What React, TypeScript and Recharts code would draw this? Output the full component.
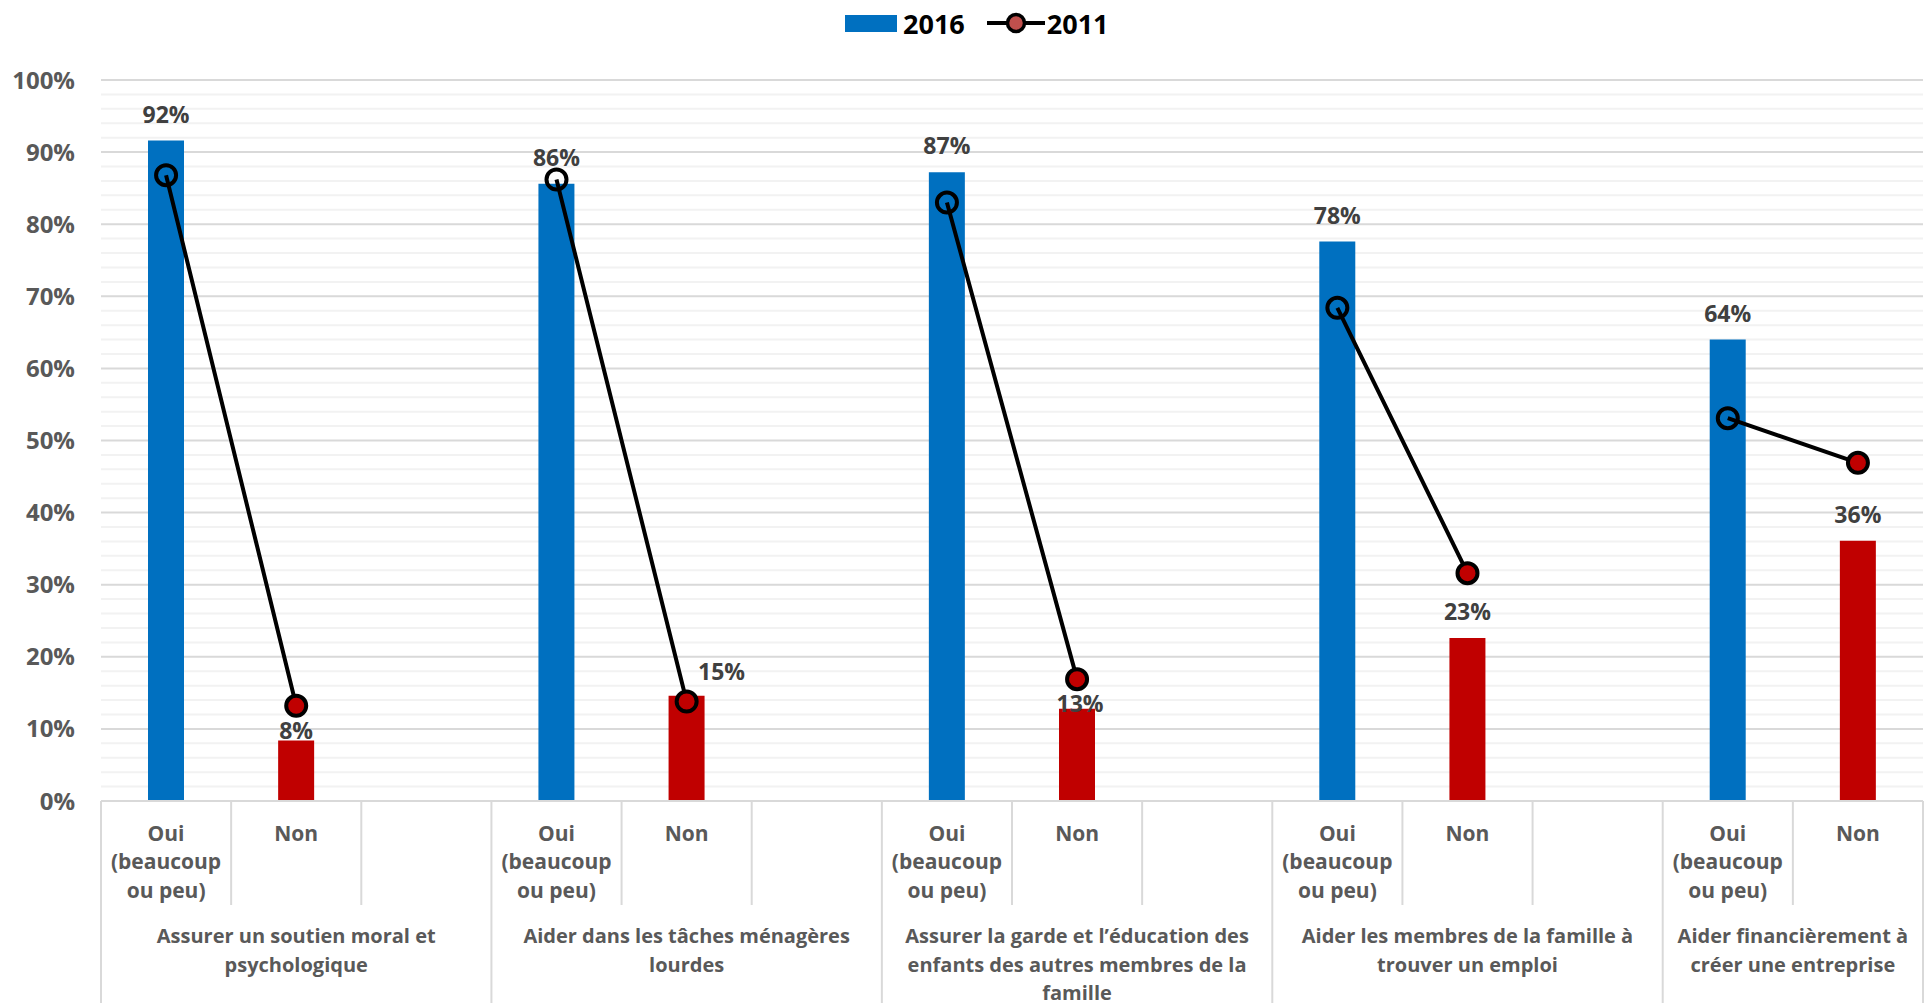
import React from 'react';
import { ComposedChart, Bar, Line, XAxis, YAxis, CartesianGrid, Legend, Cell, LabelList } from 'recharts';

const FONT = "'Open Sans', 'Noto Sans', sans-serif";
const BLUE = '#0070C0';
const RED = '#C00000';
const AXIS_GREY = '#D9D9D9';
const MINOR_GREY = '#F2F2F2';
const TEXT_GREY = '#595959';

const CHART_W = 1928;
const CHART_H = 1003;
const Y_W = 101;
const X_H = 202;
const MARGIN = { top: 36, right: 5, bottom: 0, left: 0 };

// questions (group labels, pre-wrapped like the original)
const GROUP_LABELS = [
  ['Assurer un soutien moral et', 'psychologique'],
  ['Aider dans les tâches ménagères', 'lourdes'],
  ['Assurer la garde et l’éducation des', 'enfants des autres membres de la', 'famille'],
  ['Aider les membres de la famille à', 'trouver un emploi'],
  ['Aider financièrement à', 'créer une entreprise'],
];
const OUI_LABEL = ['Oui', '(beaucoup', 'ou peu)'];
const NON_LABEL = ['Non'];

// 2016 (bars)
const OUI_2016 = [91.6, 85.6, 87.2, 77.6, 64.0];
const NON_2016 = [8.4, 14.6, 12.8, 22.6, 36.1];
// 2011 (line)
const OUI_2011 = [86.8, 86.2, 83.0, 68.4, 53.1];
const NON_2011 = [13.2, 13.8, 16.9, 31.6, 46.9];

const Y_TICKS = [0, 10, 20, 30, 40, 50, 60, 70, 80, 90, 100];
const MINOR_TICKS = Array.from({ length: 51 }, (_, i) => i * 2).filter((v) => v % 10 !== 0);

type Row = { key: string; slot: 'oui' | 'non' | 'gap'; group: number; y2016: number | null; y2011: number | null };

const rows: Row[] = [];
GROUP_LABELS.forEach((_, g) => {
  rows.push({ key: `${g}-oui`, slot: 'oui', group: g, y2016: OUI_2016[g], y2011: OUI_2011[g] });
  rows.push({ key: `${g}-non`, slot: 'non', group: g, y2016: NON_2016[g], y2011: NON_2011[g] });
  if (g < GROUP_LABELS.length - 1) rows.push({ key: `${g}-gap`, slot: 'gap', group: g, y2016: null, y2011: null });
});

const SLOT_W = (CHART_W - Y_W - MARGIN.left - MARGIN.right) / rows.length;

// hand-moved data labels in the original
const LABEL_NUDGE: Record<string, { dx: number; dy: number }> = {
  '0-non': { dx: 0, dy: 17 },
  '1-non': { dx: 35, dy: 2 },
  '2-non': { dx: 3, dy: 21 },
};

function CategoryTick(props: any) {
  const { x, y, payload } = props;
  const row = rows.find((r) => r.key === payload.value);
  if (!row) return null;
  const left = x - SLOT_W / 2;
  const lines = row.slot === 'oui' ? OUI_LABEL : row.slot === 'non' ? NON_LABEL : [];
  const groupSize = rows.filter((r) => r.group === row.group).length;
  const isLast = rows[rows.length - 1].key === row.key;
  const gx = left + (groupSize * SLOT_W) / 2;
  return (
    <g>
      <line x1={left} x2={left} y1={y} y2={y + (row.slot === 'oui' ? X_H : 104)} stroke={AXIS_GREY} strokeWidth={2} />
      {isLast && <line x1={x + SLOT_W / 2} x2={x + SLOT_W / 2} y1={y} y2={y + X_H} stroke={AXIS_GREY} strokeWidth={2} />}
      <text x={x} y={y + 40} textAnchor="middle" fill={TEXT_GREY} fontSize={21} fontWeight={700} fontFamily={FONT}>
        {lines.map((t, i) => (
          <tspan key={i} x={x} dy={i === 0 ? 0 : 28.3}>
            {t}
          </tspan>
        ))}
      </text>
      {row.slot === 'oui' && (
        <text x={gx} y={y + 142} textAnchor="middle" fill={TEXT_GREY} fontSize={20} fontWeight={700} fontFamily={FONT}>
          {GROUP_LABELS[row.group].map((t, i) => (
            <tspan key={i} x={gx} dy={i === 0 ? 0 : 28.5}>
              {t}
            </tspan>
          ))}
        </text>
      )}
    </g>
  );
}

function BarValueLabel(props: any) {
  const { x, y, width, value } = props;
  const row = rows.find((r) => r.key === value);
  if (!row || row.y2016 == null) return null;
  const nudge = LABEL_NUDGE[row.key] ?? { dx: 0, dy: 0 };
  return (
    <text
      x={x + width / 2 + nudge.dx}
      y={y - 27 + nudge.dy}
      dominantBaseline="central"
      textAnchor="middle"
      fill="#404040"
      fontSize={23}
      fontWeight={700}
      fontFamily={FONT}
    >
      {`${Math.round(row.y2016)}%`}
    </text>
  );
}

function Dot2011(props: any) {
  const { cx, cy, payload, index } = props;
  if (cx == null || cy == null || payload?.y2011 == null) return <g key={`d-${index}`} />;
  return (
    <circle
      key={`d-${index}`}
      cx={cx}
      cy={cy}
      r={10}
      fill={payload.slot === 'non' ? RED : 'none'}
      stroke="#000"
      strokeWidth={4}
    />
  );
}

function LegendBox() {
  return (
    <div
      style={{
        height: 44,
        display: 'flex',
        alignItems: 'center',
        paddingLeft: 845,
        fontFamily: FONT,
        fontWeight: 700,
        fontSize: 27,
        color: '#000',
      }}
    >
      <span style={{ width: 52, height: 17, background: BLUE, display: 'inline-block' }} />
      <span style={{ marginLeft: 6 }}>2016</span>
      <svg width={58} height={24} style={{ marginLeft: 22 }}>
        <line x1={0} x2={58} y1={12} y2={12} stroke="#000" strokeWidth={4} />
        <circle cx={29} cy={12} r={8.5} fill="#C0504D" stroke="#000" strokeWidth={3.5} />
      </svg>
      <span style={{ marginLeft: 2 }}>2011</span>
    </div>
  );
}

export default function App() {
  return (
    <div style={{ position: 'absolute', left: 0, top: 0, width: CHART_W, height: CHART_H, background: '#fff' }}>
      <ComposedChart width={CHART_W} height={CHART_H} data={rows} margin={MARGIN} style={{ fontFamily: FONT }}>
        <CartesianGrid vertical={false} horizontalValues={MINOR_TICKS} stroke={MINOR_GREY} strokeWidth={2} />
        <CartesianGrid vertical={false} stroke={AXIS_GREY} strokeWidth={2} />
        <Legend verticalAlign="top" align="left" wrapperStyle={{ top: 1, left: 0, width: CHART_W }} content={() => <LegendBox />} />
        <XAxis
          dataKey="key"
          type="category"
          interval={0}
          height={X_H}
          tickLine={false}
          tickSize={0}
          tickMargin={0}
          axisLine={{ stroke: AXIS_GREY, strokeWidth: 2 }}
          tick={<CategoryTick />}
        />
        <YAxis
          width={Y_W}
          domain={[0, 100]}
          ticks={Y_TICKS}
          interval={0}
          axisLine={false}
          tickLine={false}
          tickSize={0}
          tickMargin={26}
          tickFormatter={(v) => `${v}%`}
          tick={{ fill: TEXT_GREY, fontSize: 24, fontWeight: 700, fontFamily: FONT }}
        />
        <Bar dataKey="y2016" name="2016" barSize={36} isAnimationActive={false}>
          {rows.map((r) => (
            <Cell key={r.key} fill={r.slot === 'non' ? RED : BLUE} />
          ))}
          <LabelList dataKey="key" content={<BarValueLabel />} />
        </Bar>
        <Line
          dataKey="y2011"
          name="2011"
          stroke="#000"
          strokeWidth={4}
          connectNulls={false}
          dot={(p: any) => <Dot2011 {...p} />}
          activeDot={false}
          isAnimationActive={false}
        />
      </ComposedChart>
    </div>
  );
}
